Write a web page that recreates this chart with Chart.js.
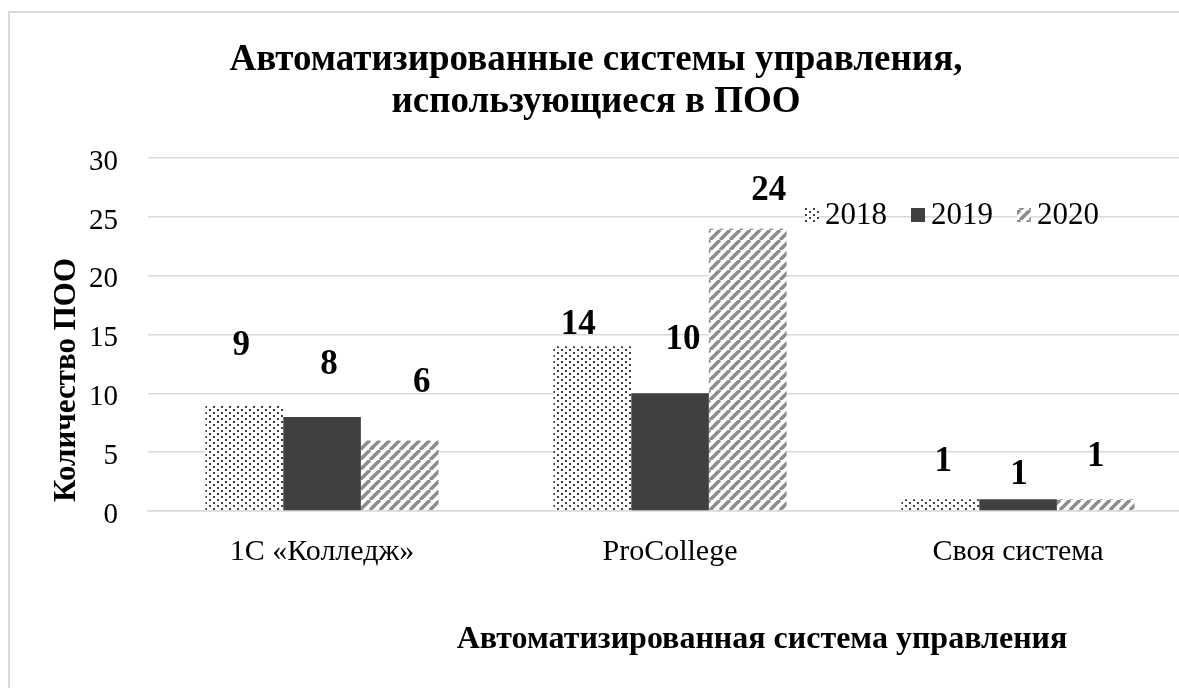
<!DOCTYPE html>
<html>
<head>
<meta charset="utf-8">
<script src="https://cdn.jsdelivr.net/npm/chart.js@4"></script>
<style>
  html, body { margin: 0; padding: 0; background: #fff; overflow: hidden; }
  #wrap { position: relative; width: 1179px; height: 688px; overflow: hidden; }
  #frame { position: absolute; left: 8px; top: 11px; width: 1300px; height: 800px;
           border-left: 2px solid #d9d9d9; border-top: 2px solid #d9d9d9; }
  canvas { position: absolute; left: 0; top: 0; }
</style>
</head>
<body>
<div id="wrap">
  <div id="frame"></div>
  <canvas id="chart" width="1215" height="688"></canvas>
</div>
<script>
const categories = ['1С «Колледж»', 'ProCollege', 'Своя система'];
const years = ['2018', '2019', '2020'];
const values2018 = [9, 14, 1];
const values2019 = [8, 10, 1];
const values2020 = [6, 24, 1];
const yTicks = [0, 5, 10, 15, 20, 25, 30];

// где стоят подписи относительно вершины столбца (dx, dy)
const labelOffsets = [
    [[-3, -59], [-14, -21], [3, -37]],
    [[7, -52], [13, -53], [1, -24]],
    [[22, -57], [21, -38], [0, -42]]
];

const FONT = "'Liberation Serif', 'Times New Roman', serif";

function dotPattern() {
    const c = document.createElement('canvas');
    c.width = 8; c.height = 6;
    const g = c.getContext('2d');
    g.fillStyle = '#fff';
    g.fillRect(0, 0, 8, 6);
    g.fillStyle = '#404040';
    g.fillRect(1, 1, 2, 2);
    g.fillRect(5, 4, 2, 2);
    return g.createPattern(c, 'repeat');
}

function stripePattern() {
    const s = 10;
    const c = document.createElement('canvas');
    c.width = s; c.height = s;
    const g = c.getContext('2d');
    g.fillStyle = '#fff';
    g.fillRect(0, 0, s, s);
    g.strokeStyle = '#8c8c8c';
    g.lineWidth = 3.5;
    g.beginPath();
    for (let k = -1; k <= 1; k++) {
        g.moveTo(k * s, s);
        g.lineTo(k * s + s, 0);
    }
    g.stroke();
    return g.createPattern(c, 'repeat');
}

const fills = [dotPattern(), '#404040', stripePattern()];

const extras = {
    id: 'extras',
    afterDatasetsDraw(chart) {
        const ctx = chart.ctx;
        ctx.save();
        // подписи значений
        ctx.fillStyle = '#000';
        ctx.font = 'bold 35px ' + FONT;
        ctx.textAlign = 'center';
        ctx.textBaseline = 'middle';
        chart.data.datasets.forEach((ds, i) => {
            chart.getDatasetMeta(i).data.forEach((bar, j) => {
                const off = labelOffsets[i][j];
                ctx.fillText(ds.data[j], bar.x + off[0], bar.y + off[1]);
            });
        });

        // легенда
        ctx.font = '31px ' + FONT;
        ctx.textAlign = 'left';
        let x = 805;
        const y = 215;
        chart.data.datasets.forEach((ds, i) => {
            ctx.fillStyle = ds.backgroundColor;
            ctx.fillRect(x, y - 7, 14, 14);
            ctx.fillStyle = '#000';
            ctx.fillText(ds.label, x + 20, y + 1);
            x += 20 + ctx.measureText(ds.label).width + 24;
        });

        // подписи осей
        ctx.font = 'bold 32px ' + FONT;
        ctx.textAlign = 'center';
        ctx.fillText('Автоматизированная система управления', 762, 640);
        ctx.font = 'bold 31px ' + FONT;
        ctx.translate(67, 380);
        ctx.rotate(-Math.PI / 2);
        ctx.fillText('Количество ПОО', 0, 0);
        ctx.restore();
    }
};

new Chart(document.getElementById('chart'), {
    type: 'bar',
    data: {
        labels: categories,
        datasets: years.map((y, i) => ({
            label: y,
            data: [values2018, values2019, values2020][i],
            backgroundColor: fills[i],
            borderWidth: 0
        }))
    },
    options: {
        responsive: false,
        animation: false,
        events: [],
        layout: { padding: { left: 0, right: 23, bottom: 0, top: 0 } },
        datasets: { bar: { categoryPercentage: 0.67, barPercentage: 1 } },
        plugins: {
            legend: { display: false },
            tooltip: { enabled: false },
            title: {
                display: true,
                text: ['Автоматизированные системы управления,', 'использующиеся в ПОО'],
                color: '#000',
                font: { family: FONT, size: 37, weight: 'bold', lineHeight: 1.15 },
                padding: { top: 39, bottom: 34 }
            }
        },
        scales: {
            x: {
                grid: { display: false, drawTicks: false },
                border: { color: '#d9d9d9', width: 1.5 },
                ticks: { color: '#000', font: { family: FONT, size: 30 }, padding: 23 },
                afterFit(s) { s.height = 177; }
            },
            y: {
                min: 0,
                max: 30,
                afterBuildTicks(s) { s.ticks = yTicks.map(v => ({ value: v })); },
                grid: { color: '#d9d9d9', lineWidth: 1.5, drawTicks: false },
                border: { display: false },
                ticks: { color: '#000', font: { family: FONT, size: 29 }, padding: 30, labelOffset: 4 },
                afterFit(s) { s.width = 148; }
            }
        }
    },
    plugins: [extras]
});
</script>
</body>
</html>
